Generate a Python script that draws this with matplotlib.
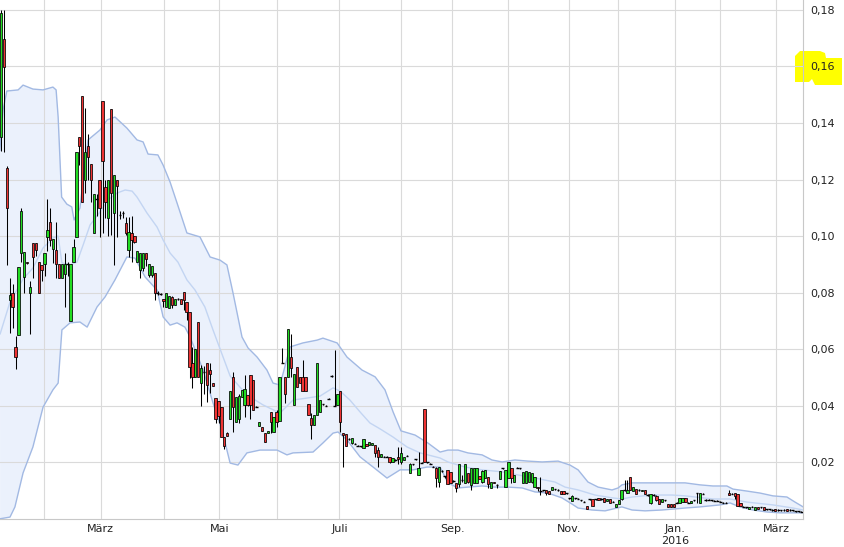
import numpy as np
import matplotlib.pyplot as plt
from matplotlib.patches import Polygon

# daily candles, one entry per trading day
opens = [
    .135, .1697, .124, .0773, .080, .0609, .065, .094, .0856, .091,
    .080, .0975, .0975, .091, .0898, .090, .0998, .1049, .0953, .0951,
    .090, .085, .0866, .090, .070, .091, .0998, .135, .1497, .1198,
    .132, .1254, .101, .113, .1198, .1478, .1175, .1063, .1448, .108,
    .1198, .1074, .108, .1047, .0951, .1012, .100, .0909, .088, .0886,
    .0939, .0862, .0862, .0868, .0797, .0795, .0776, .075, .0745, .0784,
    .0757, .0776, .0776, .0801, .0768, .073, .055, .050, .0697, .0479,
    .052, .055, .0527, .0479, .0426, .0417, .0396, .029, .0302, .0352,
    .050, .0343, .0352, .0432, .0402, .0438, .0508, .049, .0396, .0328,
    .0326, .0302, .0302, .0379, .0308, .0379, .0347, .055, .050, .050,
    .0571, .0401, .0538, .0503, .050, .050, .0405, .0355, .0332, .0367,
    .0377, .0405, .040, .0425, .0505, .040, .0401, .0452, .0302, .0299,
    .0282, .0269, .0265, .0259, .0257, .0249, .0264, .026, .0262, .0261,
    .0243, .022, .022, .022, .022, .0202, .0208, .022, .0202, .0207,
    .0223, .0163, .0193, .021, .0155, .0198, .039, .020, .0195, .0184,
    .0181, .0131, .0169, .0151, .0173, .0166, .0134, .0126, .0123, .0137,
    .0126, .0161, .012, .0126, .0126, .0151, .0131, .0143, .0147, .0108,
    .0131, .012, .014, .0179, .0114, .0143, .0179, .0131, .0181, .0179,
    .0126, .0126, .0131, .0131, .0111, .0113, .0099, .0101, .0102, .0099,
    .0102, .0104, .0102, .0099, .0097, .009, .0072, .0064, .0072, .0071,
    .0066, .006, .0046, .0069, .0071, .0069, .0073, .007, .0072, .0062,
    .0069, .006, .0043, .0052, .0069, .0102, .009, .0149, .0099, .0104,
    .0102, .0097, .0102, .0084, .0057, .0084, .0081, .0069, .006, .0066,
    .0051, .0051, .0051, .0057, .0057, .006, .0072, .0057, .0057, .0066,
    .009, .0057, .0088, .0066, .0067, .0066, .0064, .0064, .006, .0057,
    .0057, .0092, .0088, .009, .0088, .0055, .0043, .0041, .0034, .0043,
    .0031, .0043, .0041, .0041, .0034, .0034, .0031, .0036, .0031, .003,
    .0031, .0036, .0031, .003, .0027, .0027, .0025,
]
highs = [
    .180, .180, .1249, .0853, .083, .0647, .0892, .110, .0945, .091,
    .084, .0975, .0975, .091, .0898, .0939, .1131, .110, .0989, .105,
    .090, .090, .094, .091, .090, .0989, .1298, .135, .1497, .1453,
    .136, .1254, .1149, .1149, .1198, .1478, .1198, .1198, .1448, .1216,
    .1198, .109, .109, .1069, .1069, .107, .100, .0948, .0939, .094,
    .0939, .090, .0893, .0868, .0805, .080, .0776, .080, .0787, .0788,
    .0776, .078, .0776, .0801, .0768, .073, .0609, .060, .0697, .0545,
    .054, .055, .055, .048, .0426, .0417, .0396, .029, .0308, .0453,
    .052, .043, .044, .0455, .0508, .0438, .0508, .049, .0398, .0343,
    .0326, .0302, .0312, .0379, .0361, .0385, .050, .0605, .050, .067,
    .0653, .0512, .0538, .0503, .0562, .050, .0405, .0373, .0367, .055,
    .042, .0407, .0402, .0427, .0507, .0597, .044, .0452, .0302, .0299,
    .0284, .0285, .0267, .0261, .0259, .0281, .0264, .0271, .0268, .0261,
    .0255, .023, .0222, .0222, .022, .0214, .021, .0255, .0255, .022,
    .0225, .0196, .0195, .0212, .0237, .020, .039, .0202, .0197, .0186,
    .0184, .0184, .0171, .0153, .0173, .0166, .0138, .0126, .0194, .0155,
    .0194, .0161, .0181, .0181, .0181, .0151, .0173, .0173, .0147, .0131,
    .0131, .0122, .0169, .0181, .0173, .020, .0179, .0155, .0183, .0181,
    .0167, .0169, .0164, .0161, .0149, .0113, .0149, .0103, .0102, .0099,
    .0114, .0106, .0104, .0099, .0097, .0092, .0074, .0084, .0074, .0073,
    .0068, .0062, .0046, .0071, .0071, .0071, .0073, .0072, .0072, .0069,
    .0069, .0062, .0052, .0066, .0102, .0137, .0137, .0149, .0114, .0104,
    .0104, .0102, .0102, .0086, .0088, .0086, .0084, .0069, .0071, .0068,
    .0051, .0051, .0051, .0059, .0072, .0074, .0072, .0059, .0064, .0068,
    .009, .009, .009, .0069, .0069, .0068, .0066, .0066, .0062, .0059,
    .0059, .0102, .009, .009, .0088, .0055, .0045, .0043, .0043, .0045,
    .0041, .0043, .0043, .0041, .0036, .0036, .0033, .0036, .0033, .0032,
    .0033, .0036, .0033, .0032, .0029, .0029, .0027,
]
lows = [
    .130, .1298, .0898, .0657, .0675, .053, .065, .0909, .080, .090,
    .0654, .085, .093, .080, .084, .0857, .0948, .0965, .0905, .0852,
    .085, .085, .075, .086, .070, .091, .0998, .125, .112, .1152,
    .120, .112, .101, .107, .0998, .101, .1064, .100, .1004, .0898,
    .0998, .106, .1065, .1004, .0927, .091, .0975, .0909, .085, .0876,
    .0895, .0855, .0855, .0775, .079, .079, .075, .075, .0745, .0745,
    .0757, .0774, .0759, .074, .0703, .0498, .0462, .050, .050, .040,
    .044, .0414, .0445, .047, .0339, .0339, .029, .0246, .0293, .0352,
    .0308, .0343, .034, .0432, .0361, .040, .0352, .0385, .0394, .0328,
    .0312, .0273, .0302, .0302, .0308, .0325, .0347, .055, .041, .050,
    .050, .0401, .0465, .0479, .0453, .0453, .0367, .0281, .0332, .0367,
    .0377, .0403, .0398, .0423, .0503, .040, .0401, .0308, .0182, .0259,
    .028, .0265, .0263, .0257, .0255, .0249, .0257, .026, .0262, .022,
    .0184, .022, .0218, .0218, .0196, .0202, .0206, .0194, .0194, .0207,
    .0221, .0163, .0191, .0208, .0155, .0196, .020, .0198, .0193, .0182,
    .0111, .0114, .0167, .0145, .0123, .0126, .0131, .0096, .0114, .0131,
    .0126, .0126, .0102, .0126, .0126, .014, .0126, .0143, .0108, .0108,
    .0126, .0108, .014, .0177, .0114, .0143, .0126, .0131, .0179, .0177,
    .0126, .0126, .0131, .0126, .0111, .0099, .0084, .0099, .0084, .0088,
    .0102, .0102, .010, .0088, .0086, .0088, .007, .0062, .007, .0069,
    .0064, .0058, .0034, .0067, .0045, .0067, .0068, .0068, .006, .0062,
    .0055, .0058, .0043, .0052, .0066, .010, .009, .0102, .0099, .0088,
    .010, .0097, .0088, .0082, .0053, .0082, .0064, .0052, .006, .0064,
    .0043, .004, .0043, .0055, .0057, .006, .006, .0055, .0057, .0064,
    .0057, .0057, .0086, .0064, .0065, .0064, .0062, .0062, .0058, .0055,
    .0055, .0084, .0086, .0069, .0045, .0045, .0041, .0039, .0034, .0041,
    .0031, .0034, .0039, .0031, .0032, .0032, .0029, .0029, .0029, .0028,
    .0029, .0029, .0029, .0028, .0025, .0025, .0023,
]
closes = [
    .179, .1597, .1098, .0791, .075, .0573, .0892, .1089, .0945, .0904,
    .082, .0926, .095, .080, .088, .0939, .1021, .0986, .0989, .090,
    .085, .090, .090, .090, .090, .096, .1298, .132, .112, .1298,
    .128, .1198, .1149, .113, .1098, .1267, .1122, .1198, .1151, .1216,
    .1177, .1074, .108, .101, .1016, .0986, .0978, .0948, .0939, .094,
    .0918, .090, .0893, .0797, .0797, .0795, .077, .080, .0787, .0757,
    .0776, .0776, .0759, .0774, .073, .0538, .050, .060, .050, .0535,
    .052, .0473, .0512, .0471, .0352, .0364, .029, .0257, .0293, .0453,
    .0396, .043, .0433, .0455, .0458, .0402, .0402, .0385, .0396, .0343,
    .0312, .0273, .0312, .0343, .0361, .0343, .050, .055, .044, .067,
    .0532, .0512, .0465, .0479, .0453, .0453, .0367, .0332, .0367, .055,
    .042, .0405, .040, .0425, .0505, .040, .044, .0343, .0295, .0259,
    .0282, .0285, .0265, .0259, .0257, .0281, .0257, .0271, .0268, .0234,
    .022, .023, .022, .022, .0202, .0214, .0208, .021, .0234, .022,
    .0223, .0193, .0193, .021, .0181, .0198, .020, .020, .0195, .0184,
    .0143, .0184, .0169, .0151, .0123, .0126, .0134, .0108, .0194, .0137,
    .0194, .0131, .0181, .0181, .0181, .014, .017, .0173, .0123, .0131,
    .0126, .012, .0169, .0179, .0173, .020, .0143, .0155, .0181, .0179,
    .0167, .0169, .0164, .0161, .0149, .0108, .0099, .0101, .009, .0088,
    .0114, .0104, .0102, .0088, .0086, .009, .0072, .0081, .0072, .0071,
    .0066, .006, .0034, .0069, .0045, .0069, .0068, .007, .006, .0069,
    .0055, .006, .0052, .0066, .0102, .0102, .0102, .0102, .0114, .0088,
    .0102, .0102, .0088, .0084, .0088, .0084, .0066, .0052, .0071, .0066,
    .0043, .004, .0043, .0057, .0072, .0074, .006, .0057, .0064, .0066,
    .009, .009, .0088, .0066, .0067, .0066, .0064, .0064, .006, .0057,
    .0057, .0084, .0088, .0081, .0045, .0045, .0043, .0041, .0043, .0043,
    .0041, .0034, .0041, .0031, .0034, .0034, .0031, .0029, .0031, .003,
    .0031, .0029, .0031, .003, .0027, .0027, .0025,
]

# bollinger bands, read at points along the day axis
upper_pos = [-0.4, 0.7, 2, 5.9, 7.6, 11, 14.5, 17.9, 19, 19.7,
             20.9, 22.7, 24.4, 25.2, 27.2, 30, 34.1, 36.6, 39.3, 43.4,
             46.9, 49, 50.7, 54.1, 55.9, 58.3, 60.7, 64.1, 68.6, 72.1,
             75.5, 77.9, 80, 83.1, 85.2, 88.3, 91.7, 93.8, 96.2, 99.7,
             104.1, 109, 111, 115.9, 119.3, 124.5, 129, 132.4, 135.2, 137.9,
             142.8, 147.2, 151.4, 154.1, 157.6, 161, 165.9, 169.3, 172.8, 177.2,
             181.7, 186.6, 192.1, 196.2, 199, 202.4, 205.9, 210.7, 212.8, 214.1,
             217.6, 222.1, 227.9, 235.9, 241, 245.5, 250.3, 252.4, 257.2, 261.7,
             266.2, 271, 273.8, 276.6]
upper_val = [.1304, .1446, .1513, .1517, .1534, .1520, .1517, .1527, .1517, .1421,
             .1138, .1113, .1103, .1057, .1099, .1340, .1375, .1411, .1421, .1382,
             .1340, .1333, .1290, .1287, .1251, .1191, .1117, .1011, .0997, .0926,
             .0915, .0898, .0799, .0643, .0604, .0572, .0526, .0480, .0473, .0608,
             .0622, .0632, .0639, .0622, .0572, .0526, .0502, .0456, .0378, .0311,
             .0296, .0268, .0236, .0243, .0243, .0233, .0226, .0208, .0201, .0208,
             .0204, .0201, .0204, .0190, .0173, .0130, .0112, .0102, .0109, .0120,
             .0127, .0127, .0127, .0127, .0120, .0116, .0116, .0105, .0098, .0091,
             .0081, .0077, .0059, .0042]

mid_pos = [-0.3, 3.1, 7.6, 11, 14.5, 17.9, 19.7, 21, 23.8, 26.2,
           28.3, 30.7, 34.1, 36.9, 40, 42.8, 45.2, 46.9, 50.3, 53.8,
           55.9, 58.3, 61, 64.1, 66.9, 70.3, 73.1, 79, 84.8, 90.3,
           96.2, 100.7, 105.5, 110, 114.5, 116.9, 120.3, 123.8, 127.2, 130.7,
           135.2, 140, 144.5, 151.4, 154.1, 160, 165.9, 172.8, 178.3, 184.1,
           191, 194.5, 199, 204.8, 210.7, 214.1, 217.6, 224.5, 231.4, 235.9,
           245.5, 251.4, 257.2, 266.2, 273.1, 276.6]
mid_val = [.0654, .0767, .0848, .0887, .0958, .0993, .1000, .0905, .0898, .0908,
           .0968, .1039, .1085, .1128, .1152, .1163, .1159, .1138, .1082, .1032,
           .0986, .0940, .0908, .0845, .0809, .0749, .0668, .0505, .0438, .0403,
           .0374, .0420, .0427, .0434, .0463, .0452, .0420, .0378, .0339, .0318,
           .0289, .0254, .0233, .0215, .0201, .0183, .0173, .0166, .0155, .0144,
           .0130, .0112, .0102, .0084, .0074, .0070, .0077, .0084, .0084, .0081,
           .0070, .0070, .0059, .0049, .0038, .0031]

lower_pos = [-0.3, 3.1, 4.8, 7.6, 11, 14.5, 17.9, 19.7, 21, 23.8,
             27.2, 29.7, 33.1, 35.9, 39.3, 43.4, 46.2, 49.7, 53.8, 55.9,
             58.3, 60.7, 63.4, 65.2, 69.7, 73.1, 76.2, 79, 81.7, 84.8,
             89.3, 95.2, 98.6, 100.7, 107.6, 111, 114.5, 116.2, 119.3, 123.8,
             128.3, 133.1, 137.6, 142.1, 146.9, 151.4, 154.1, 157.6, 161, 165.9,
             170.3, 174.8, 179.7, 184.1, 188.6, 193.4, 196.9, 199, 203.8, 208.3,
             212.4, 214.1, 217.6, 222.1, 227.9, 235.9, 241, 247.9, 251.4, 254.8,
             259.3, 264.1, 268.6, 276.6]
lower_val = [.0000, .0006, .0042, .0162, .0254, .0395, .0456, .0480, .0668, .0693,
             .0696, .0678, .0749, .0785, .0845, .0926, .0922, .0855, .0809, .0714,
             .0685, .0693, .0678, .0643, .0526, .0410, .0314, .0197, .0190, .0233,
             .0243, .0243, .0226, .0233, .0236, .0268, .0303, .0307, .0279, .0219,
             .0183, .0144, .0173, .0173, .0183, .0183, .0127, .0109, .0112, .0116,
             .0112, .0112, .0109, .0095, .0091, .0074, .0052, .0038, .0031, .0028,
             .0038, .0042, .0031, .0028, .0031, .0038, .0042, .0049, .0056, .0042,
             .0031, .0024, .0021, .0021]

# month boundaries on the day axis, labels every second month
month_pos = [14.9, 34.4, 56.3, 75.3, 95.3, 116.7, 137.9, 155.6, 174.7, 195.9,
             212.9, 232.4, 247.9, 267.2]
month_labels = ['', 'März', '', 'Mai', '', 'Juli', '', 'Sep.', '', 'Nov.',
                '', 'Jan.\n2016', '', 'März']
y_ticks = [0.02, 0.04, 0.06, 0.08, 0.10, 0.12, 0.14, 0.16, 0.18]

fig = plt.figure(figsize=(8.45, 5.47), dpi=100)
ax = fig.add_axes([0, 0.0516, 0.9503, 0.9484])
ax.set_facecolor('none')

# band
ax.fill(upper_pos + lower_pos[::-1], upper_val + lower_val[::-1],
        color='#ebf1fc', lw=0, zorder=1)
ax.plot(upper_pos, upper_val, color='#a2b9e3', lw=1.0, zorder=2)
ax.plot(lower_pos, lower_val, color='#a2b9e3', lw=1.0, zorder=2)
ax.plot(mid_pos, mid_val, color='#c3d5f2', lw=1.0, zorder=2)

o = np.array(opens)
h = np.array(highs)
l = np.array(lows)
c = np.array(closes)
x = np.arange(len(o))
up = c > o
down = c < o
flat = c == o

ax.vlines(x, l, h, color='black', lw=0.75, zorder=3)
ax.bar(x[up], (c - o)[up], bottom=o[up], width=0.78, color='#22dd22',
       edgecolor='black', lw=0.55, zorder=4)
ax.bar(x[down], (o - c)[down], bottom=c[down], width=0.78, color='#ee3333',
       edgecolor='black', lw=0.55, zorder=4)
ax.hlines(o[flat], x[flat] - 0.45, x[flat] + 0.45, color='black', lw=1.0, zorder=4)

ax.set_xlim(-0.35, 276.55)
ax.set_ylim(0, 0.1835)

ax.set_xticks(month_pos)
ax.set_xticklabels(month_labels)
ax.yaxis.tick_right()
ax.set_yticks(y_ticks)
ax.set_yticklabels([('%.2f' % v).replace('.', ',') for v in y_ticks])
ax.tick_params(axis='x', length=0, pad=4, labelsize=8, colors='#222222')
ax.tick_params(axis='y', length=0, pad=5, labelsize=8, colors='#222222')
ax.grid(True, color='#dadada', lw=0.8)
ax.set_axisbelow('line')

for side in ['top', 'left']:
    ax.spines[side].set_visible(False)
for side in ['right', 'bottom']:
    ax.spines[side].set_color('#c8c8c8')
    ax.spines[side].set_linewidth(0.8)

# yellow marker behind the 0,16 label
W, H = 845.0, 547.0
blob = [(795, 56), (800, 51), (820, 51), (825, 53), (826, 58), (842, 58),
        (842, 85), (815, 85), (812, 79), (809, 82), (795, 82)]
fig.add_artist(Polygon([(px / W, 1 - py / H) for px, py in blob], closed=True,
                       transform=fig.transFigure, color='#ffff00', lw=0, zorder=-1))

fig.savefig('out.png', dpi=100)
